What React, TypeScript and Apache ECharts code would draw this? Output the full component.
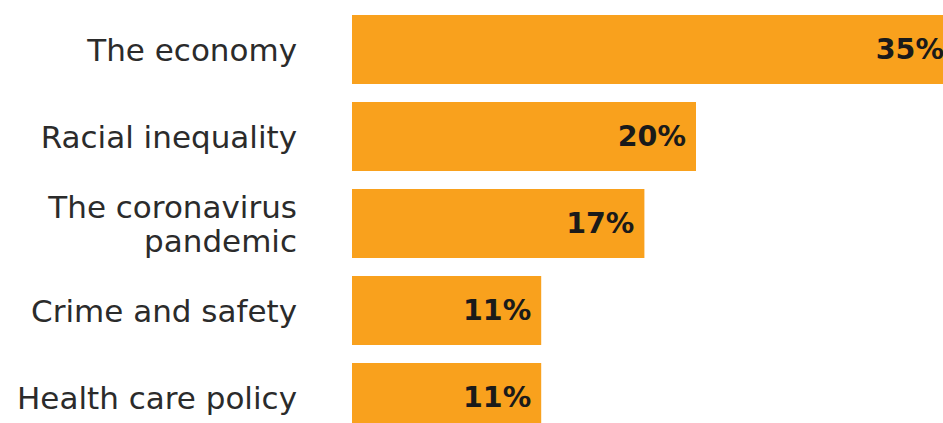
import React, { useEffect, useRef } from "react";
import * as echarts from "echarts";

const categories = [
  "The economy",
  "Racial inequality",
  "The coronavirus\npandemic",
  "Crime and safety",
  "Health care policy",
];
const values = [35, 20, 17, 11, 11];

export default function App() {
  const ref = useRef<HTMLDivElement>(null);
  useEffect(() => {
    document.body.style.margin = "0";
    document.body.style.overflow = "hidden";
    const chart = echarts.init(ref.current!, null, { renderer: "svg" });
    chart.setOption({
      animation: false,
      backgroundColor: "#ffffff",
      grid: { left: 352, top: 6, width: 602, height: 435, containLabel: false },
      xAxis: {
        type: "value",
        min: 0,
        max: 35,
        show: false,
      },
      yAxis: {
        type: "category",
        data: categories,
        inverse: true,
        axisLine: { show: false },
        axisTick: { show: false },
        splitLine: { show: false },
        axisLabel: {
          margin: 55,
          fontFamily: "DejaVu Sans",
          fontSize: 31,
          color: "#2b2b2b",
          lineHeight: 34,
          align: "right",
        },
      },
      series: [
        {
          type: "bar",
          data: values,
          barWidth: 69,
          itemStyle: { color: "#F9A11D" },
          label: {
            show: true,
            position: "insideRight",
            distance: 10,
            formatter: "{c}%",
            fontFamily: "DejaVu Sans",
            fontWeight: "bold",
            fontSize: 28.5,
            color: "#1a1a1a",
          },
        },
      ],
    });
    return () => chart.dispose();
  }, []);
  return (
    <div
      style={{ position: "fixed", left: 0, top: 0, width: 943, height: 423, overflow: "hidden", background: "#fff" }}
    >
      <div ref={ref} style={{ width: 980, height: 460 }} />
    </div>
  );
}
